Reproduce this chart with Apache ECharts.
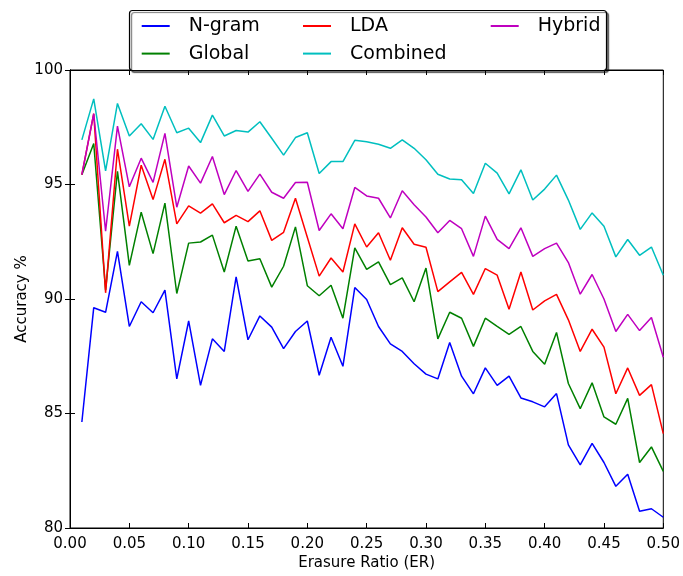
<!DOCTYPE html>
<html>
<head>
<meta charset="utf-8">
<script src="https://cdn.jsdelivr.net/npm/echarts@6/dist/echarts.min.js"></script>
<style>
html,body{margin:0;padding:0;background:#fff;}
#chart{width:683px;height:576px;}
</style>
</head>
<body>
<div id="chart"></div>
<script>
var erasureRatio = [0.01,0.02,0.03,0.04,0.05,0.06,0.07,0.08,0.09,0.10,
  0.11,0.12,0.13,0.14,0.15,0.16,0.17,0.18,0.19,0.20,
  0.21,0.22,0.23,0.24,0.25,0.26,0.27,0.28,0.29,0.30,
  0.31,0.32,0.33,0.34,0.35,0.36,0.37,0.38,0.39,0.40,
  0.41,0.42,0.43,0.44,0.45,0.46,0.47,0.48,0.49,0.50];

var ngram = [84.63,89.62,89.42,92.08,88.80,89.88,89.40,90.39,86.51,89.04,
  86.23,88.26,87.71,90.97,88.22,89.26,88.77,87.83,88.58,89.04,
  86.67,88.33,87.06,90.50,89.98,88.80,88.04,87.71,87.17,86.72,
  86.51,88.10,86.63,85.86,86.99,86.23,86.63,85.68,85.51,85.29,
  85.87,83.63,82.76,83.70,82.86,81.82,82.35,80.73,80.84,80.47];

var globalAcc = [95.43,96.79,90.40,95.57,91.47,93.79,91.98,94.19,90.24,92.44,
  92.49,92.79,91.18,93.18,91.66,91.76,90.52,91.43,93.15,90.58,
  90.14,90.60,89.16,92.23,91.29,91.62,90.63,90.92,89.88,91.35,
  88.26,89.42,89.16,87.93,89.16,88.80,88.46,88.80,87.71,87.15,
  88.54,86.31,85.21,86.34,84.85,84.53,85.66,82.86,83.54,82.47];

var lda = [95.43,98.09,90.27,96.54,93.18,95.84,94.34,96.10,93.28,94.07,
  93.75,94.15,93.33,93.65,93.38,93.85,92.56,92.91,94.40,92.70,
  91.00,91.79,91.18,93.28,92.27,92.89,91.69,93.11,92.39,92.26,
  90.32,90.75,91.16,90.20,91.33,91.04,89.55,91.18,89.52,89.92,
  90.20,89.09,87.71,88.68,87.90,85.86,86.99,85.79,86.26,84.12];

var combined = [96.95,98.74,95.60,98.54,97.12,97.65,96.97,98.42,97.26,97.46,
  96.83,98.03,97.12,97.36,97.29,97.74,97.02,96.28,97.05,97.26,
  95.48,96.00,96.00,96.93,96.87,96.76,96.58,96.95,96.58,96.08,
  95.45,95.24,95.21,94.61,95.93,95.50,94.59,95.64,94.32,94.80,
  95.41,94.32,93.04,93.76,93.18,91.84,92.60,91.91,92.27,91.04];

var hybrid = [95.43,98.09,92.96,97.55,94.90,96.15,95.09,97.23,94.01,95.81,
  95.06,96.22,94.56,95.61,94.70,95.45,94.66,94.40,95.09,95.10,
  92.99,93.72,93.07,94.87,94.50,94.40,93.54,94.73,94.12,93.58,
  92.89,93.43,93.07,91.86,93.62,92.60,92.20,93.11,91.86,92.20,
  92.44,91.59,90.21,91.07,90.00,88.58,89.33,88.62,89.19,87.46];

var seriesNames = ['N-gram','Global','LDA','Combined','Hybrid'];
var seriesColors = ['#0000ff','#008000','#ff0000','#00bfbf','#bf00bf'];
var seriesValues = [ngram, globalAcc, lda, combined, hybrid];

var xTicks = {min:0, max:0.5, interval:0.05};
var yTicks = {min:80, max:100, interval:5};

function pairs(vals){
  return vals.map(function(v,i){ return [erasureRatio[i], v]; });
}

var chart = echarts.init(document.getElementById('chart'), null, {renderer:'canvas'});
var font = 'DejaVu Sans';

var legendCommon = {
  orient:'vertical', padding:0, itemWidth:28, itemHeight:2, itemGap:5.6,
  icon:'rect', z:30,
  textStyle:{fontFamily:font, fontSize:19, color:'#000', lineHeight:22, padding:[0,0,0,14]}
};

var option = {
  backgroundColor:'#fff',
  animation:false,
  grid:{left:70, right:17, top:70, bottom:44, show:true, borderColor:'#000', borderWidth:1, backgroundColor:'transparent'},
  xAxis:[{
    type:'value', min:xTicks.min, max:xTicks.max, interval:xTicks.interval,
    name:'Erasure Ratio (ER)', nameLocation:'middle', nameGap:28, nameMoveOverlap:false,
    nameTextStyle:{fontFamily:font, fontSize:15, color:'#000'},
    axisLine:{show:true, lineStyle:{color:'#000', width:1}},
    axisTick:{show:true, inside:true, length:5, lineStyle:{color:'#000'}},
    axisLabel:{fontFamily:font, fontSize:15, color:'#000', margin:9,
      formatter:function(v){ return v.toFixed(2); }},
    splitLine:{show:false}
  },{
    type:'value', position:'top', min:xTicks.min, max:xTicks.max, interval:xTicks.interval,
    axisLine:{show:true, lineStyle:{color:'#000', width:1}},
    axisTick:{show:true, inside:true, length:5, lineStyle:{color:'#000'}},
    axisLabel:{show:false}, splitLine:{show:false}
  }],
  yAxis:[{
    type:'value', min:yTicks.min, max:yTicks.max, interval:yTicks.interval,
    name:'Accuracy %', nameLocation:'middle', nameGap:40, nameMoveOverlap:false,
    nameTextStyle:{fontFamily:font, fontSize:15, color:'#000'},
    axisLine:{show:true, lineStyle:{color:'#000', width:1}},
    axisTick:{show:true, inside:true, length:5, lineStyle:{color:'#000'}},
    axisLabel:{fontFamily:font, fontSize:15, color:'#000', margin:7},
    splitLine:{show:false}
  },{
    type:'value', position:'right', min:yTicks.min, max:yTicks.max, interval:yTicks.interval,
    axisLine:{show:true, lineStyle:{color:'#000', width:1}},
    axisTick:{show:true, inside:true, length:5, lineStyle:{color:'#000'}},
    axisLabel:{show:false}, splitLine:{show:false}
  }],
  legend:[
    Object.assign({}, legendCommon, {left:141.7, top:15, data:['N-gram','Global']}),
    Object.assign({}, legendCommon, {left:303, top:15, data:['LDA','Combined']}),
    Object.assign({}, legendCommon, {left:490.7, top:15, data:['Hybrid']})
  ],
  graphic:[{
    type:'rect', z:25, silent:true,
    shape:{x:129.5, y:10.5, width:477, height:60, r:3},
    style:{fill:'#fff', stroke:'#000', lineWidth:1.2,
      shadowColor:'rgba(0,0,0,0.55)', shadowOffsetX:2, shadowOffsetY:2, shadowBlur:1}
  }],
  series: seriesNames.map(function(n,k){
    return {
      name:n, type:'line', data:pairs(seriesValues[k]),
      xAxisIndex:0, yAxisIndex:0,
      symbol:'none', smooth:false,
      lineStyle:{color:seriesColors[k], width:1.5},
      itemStyle:{color:seriesColors[k]}
    };
  })
};
chart.setOption(option);
</script>
</body>
</html>
